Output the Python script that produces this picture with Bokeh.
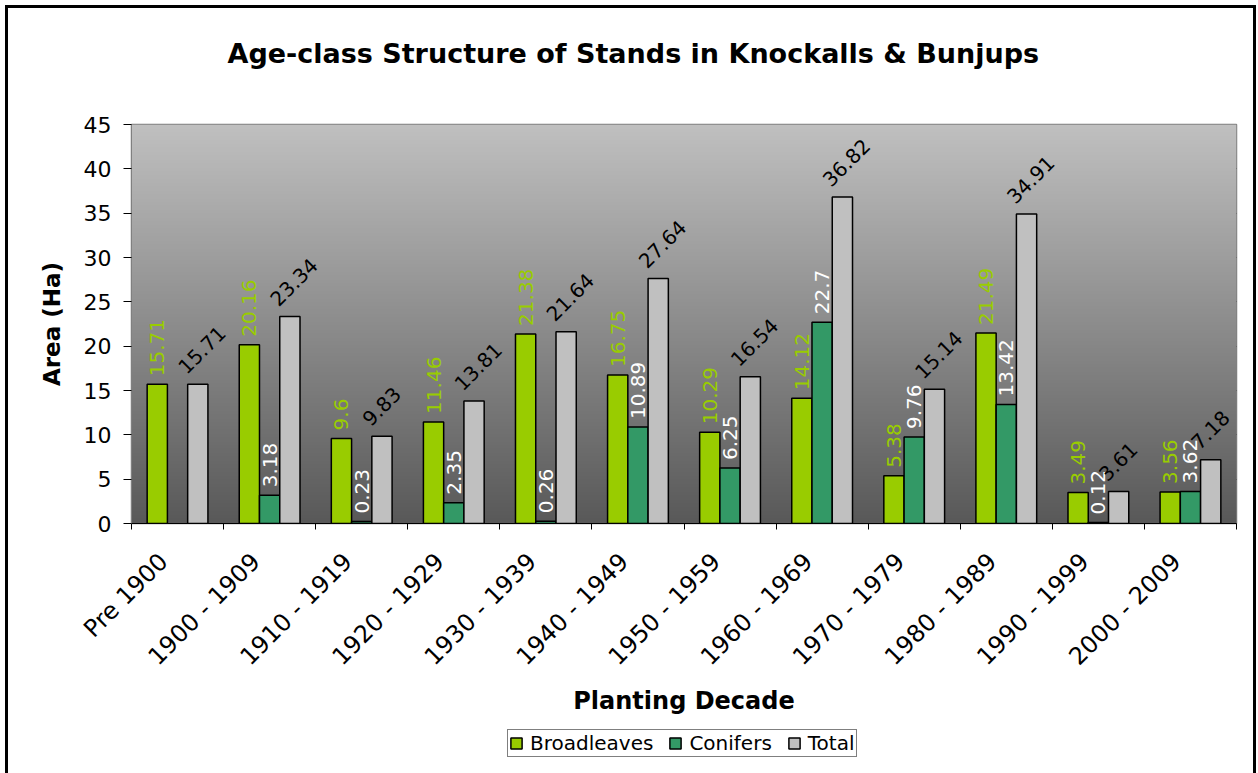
import numpy as np
from bokeh.plotting import figure
from bokeh.layouts import column
from bokeh.models import (Range1d, FixedTicker, Legend, LegendItem, ColumnDataSource, Title)
from bokeh.core.properties import value
from bokeh.embed import file_html
from bokeh.resources import INLINE

# ---- data ----
decades = ["Pre 1900", "1900 - 1909", "1910 - 1919", "1920 - 1929", "1930 - 1939",
           "1940 - 1949", "1950 - 1959", "1960 - 1969", "1970 - 1979", "1980 - 1989",
           "1990 - 1999", "2000 - 2009"]
broadleaves = [15.71, 20.16, 9.6, 11.46, 21.38, 16.75, 10.29, 14.12, 5.38, 21.49, 3.49, 3.56]
conifers = [None, 3.18, 0.23, 2.35, 0.26, 10.89, 6.25, 22.7, 9.76, 13.42, 0.12, 3.62]
total = [15.71, 23.34, 9.83, 13.81, 21.64, 27.64, 16.54, 36.82, 15.14, 34.91, 3.61, 7.18]
y_ticks = [0, 5, 10, 15, 20, 25, 30, 35, 40, 45]
series_names = ["Broadleaves", "Conifers", "Total"]

GREEN = "#99CC00"
TEAL = "#339966"
GREY = "#C0C0C0"
FONT = "DejaVu Sans"

n = len(decades)
centers = np.arange(n) + 0.5
bw = 0.22
label_shift = 0.15

def fmt(v):
    return "" if v is None else ("%g" % v)

conif_vals = [np.nan if v is None else v for v in conifers]

src_b = ColumnDataSource(dict(x=centers - bw, top=broadleaves, lab=[fmt(v) for v in broadleaves]))
src_c = ColumnDataSource(dict(x=centers, top=conif_vals, lab=[fmt(v) for v in conifers]))
src_t = ColumnDataSource(dict(x=centers + bw, top=total, lab=[fmt(v) for v in total]))

W = 1245
p = figure(width=W, height=715, output_backend="svg", toolbar_location=None,
           x_range=Range1d(0, n), y_range=Range1d(0, 45),
           min_border_left=123, min_border_right=17, min_border_top=116, min_border_bottom=200)

# spacer (nearest the frame) so the real title sits higher up
p.add_layout(Title(text=" ", text_font=FONT, text_font_size="20px", standoff=25), "above")
p.title = Title(text="Age-class Structure of Stands in Knockalls & Bunjups", align="left",
                offset=96, text_font=FONT, text_font_size="27px", text_font_style="bold",
                text_color="black", standoff=10)

p.background_fill_color = "white"
p.border_fill_color = "white"
p.outline_line_color = "#808080"
p.outline_line_width = 1.5

# gradient background (decoration)
rows = 256
g = np.linspace(89, 192, rows).astype(np.uint32)
img = np.empty((rows, 1), dtype=np.uint32)
img[:, 0] = (255 << 24) | (g << 16) | (g << 8) | g
p.image_rgba(image=[img], x=0, y=0, dw=n, dh=45)

# grid
p.xgrid.visible = False
p.ygrid.ticker = FixedTicker(ticks=y_ticks[1:-1])
p.ygrid.grid_line_color = "black"
p.ygrid.grid_line_width = 1

rb = p.vbar(x="x", top="top", width=bw, bottom=0, source=src_b, fill_color=GREEN,
            line_color="black", line_width=1.5)
rc = p.vbar(x="x", top="top", width=bw, bottom=0, source=src_c, fill_color=TEAL,
            line_color="black", line_width=1.5)
rt = p.vbar(x="x", top="top", width=bw, bottom=0, source=src_t, fill_color=GREY,
            line_color="black", line_width=1.5)

# data labels
p.text(x="x", y="top", text="lab", source=src_b, angle=np.pi / 2, text_align="left",
       text_baseline="middle", y_offset=-8, text_color=GREEN, text_font=value(FONT),
       text_font_size="20px")
p.text(x="x", y="top", text="lab", source=src_c, angle=np.pi / 2, text_align="left",
       text_baseline="middle", y_offset=-8, text_color="white", text_font=value(FONT),
       text_font_size="20px")
p.text(x="x", y="top", text="lab", source=src_t, angle=np.pi / 4, text_align="left",
       text_baseline="middle", x_offset=-16, y_offset=-14, text_color="black",
       text_font=value(FONT), text_font_size="20px")

# axes
label_pos = [float(c - label_shift) for c in centers]
xa = p.xaxis[0]
xa.ticker = FixedTicker(ticks=label_pos, minor_ticks=list(range(n + 1)))
xa.major_label_overrides = {lp: d for lp, d in zip(label_pos, decades)}
xa.major_label_orientation = np.pi / 4
xa.major_tick_out = 0
xa.major_tick_in = 0
xa.minor_tick_out = 6
xa.minor_tick_in = 0
xa.minor_tick_line_color = "black"
xa.axis_line_color = "black"
xa.major_label_text_font = FONT
xa.major_label_text_font_size = "24px"
xa.major_label_text_color = "black"
xa.major_label_standoff = 28
xa.axis_label = "Planting Decade"
xa.axis_label_text_font = FONT
xa.axis_label_text_font_size = "24px"
xa.axis_label_text_font_style = "bold"
xa.axis_label_text_color = "black"
xa.axis_label_standoff = 3

ya = p.yaxis[0]
ya.ticker = FixedTicker(ticks=y_ticks)
ya.major_tick_out = 8
ya.major_tick_in = 0
ya.minor_tick_out = 0
ya.minor_tick_in = 0
ya.major_tick_line_color = "black"
ya.axis_line_color = "#808080"
ya.major_label_text_font = FONT
ya.major_label_text_font_size = "22px"
ya.major_label_text_color = "black"
ya.major_label_standoff = 12
ya.axis_label = "Area (Ha)"
ya.axis_label_text_font = FONT
ya.axis_label_text_font_size = "23px"
ya.axis_label_text_font_style = "bold"
ya.axis_label_text_color = "black"
ya.axis_label_standoff = 16

# legend strip (separate figure so the legend sits below the axis title);
# its swatch renderers carry no drawable positions, only their legend swatches show
p2 = figure(width=W, height=50, output_backend="svg", toolbar_location=None,
            x_range=Range1d(0, 1), y_range=Range1d(0, 1), x_axis_type=None, y_axis_type=None,
            min_border=0, min_border_left=0, min_border_right=0, min_border_top=0,
            min_border_bottom=0)
p2.outline_line_color = None
p2.grid.visible = False
p2.background_fill_color = "white"
p2.border_fill_color = "white"
colors = [GREEN, TEAL, GREY]
leg_rs = []
for vals, c in zip([broadleaves, conif_vals, total], colors):
    s = ColumnDataSource(dict(x=[np.nan] * len(vals), top=[np.nan] * len(vals)))
    leg_rs.append(p2.vbar(x="x", top="top", width=bw, bottom=0, source=s, fill_color=c,
                          line_color="black", line_width=1.5))

legend = Legend(items=[LegendItem(label=nm, renderers=[r], index=1)
                       for nm, r in zip(series_names, leg_rs)],
                orientation="horizontal", location=(376, 16))
legend.label_text_font = FONT
legend.label_text_font_size = "20px"
legend.label_text_color = "black"
legend.label_height = 19
legend.glyph_width = 14
legend.glyph_height = 14
legend.label_standoff = 7
legend.spacing = 15
legend.padding = 1
legend.margin = 0
legend.border_line_color = "black"
legend.border_line_width = 1
legend.background_fill_color = "white"
p2.add_layout(legend, "center")

layout = column(p, p2, spacing=0)
layout.styles = {"border": "3px solid black", "margin-left": "5px", "margin-top": "5px"}

open("out.html", "w").write(file_html(layout, INLINE))
